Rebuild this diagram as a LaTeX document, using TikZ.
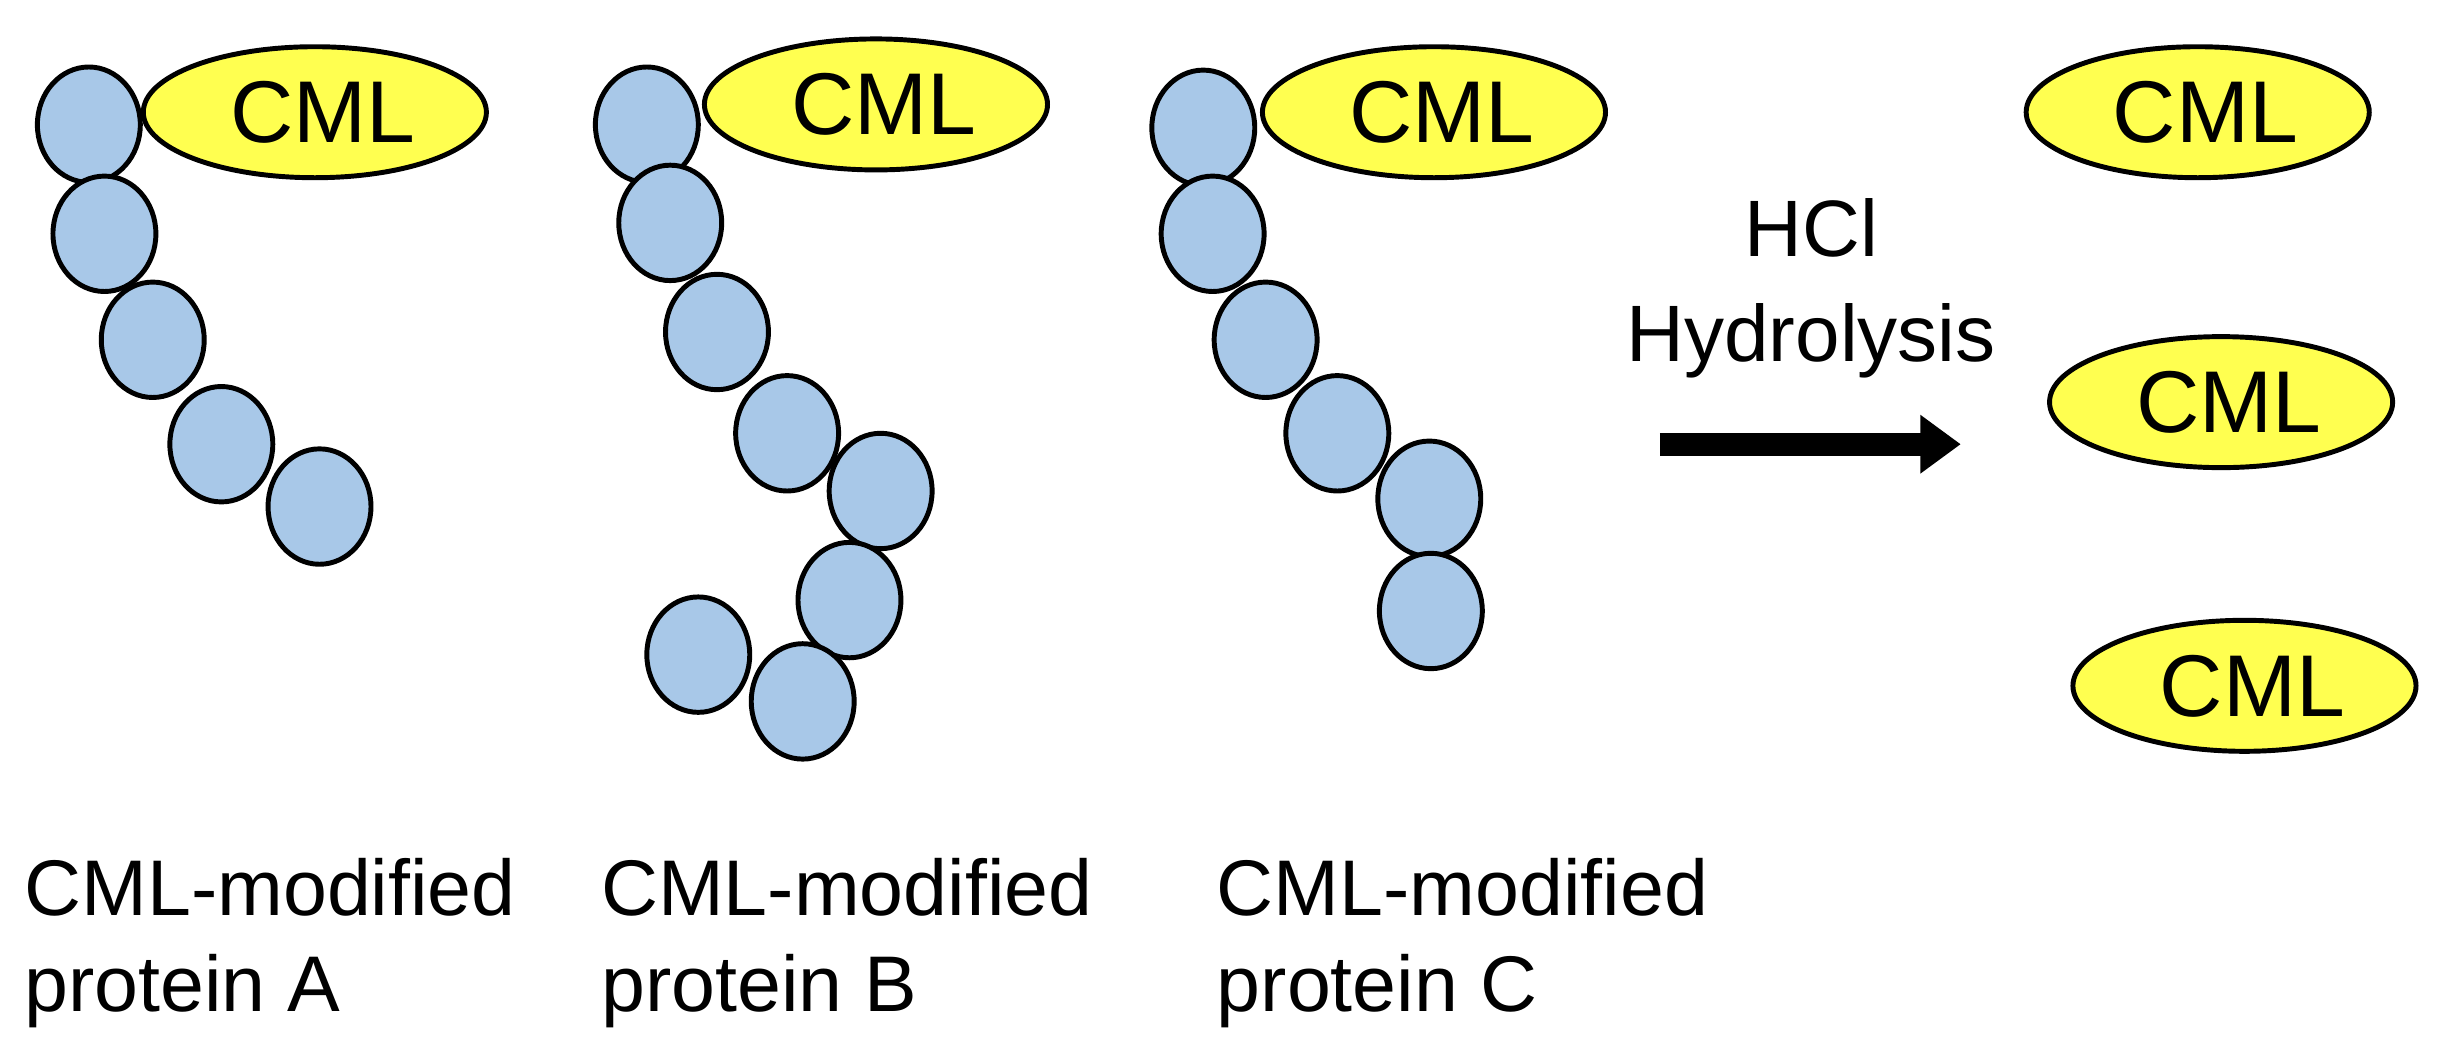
\documentclass[tikz,border=0pt]{standalone}
\usepackage{fontspec}
\setmainfont{Liberation Sans}
\usetikzlibrary{shapes.geometric,arrows.meta}
\begin{document}
\begin{tikzpicture}[x=0.01cm,y=-0.01cm,
  bead/.style={ellipse,draw=black,line width=0.9pt,fill=beadc,minimum width=0.66cm,minimum height=0.74cm,inner sep=0pt},
  cml/.style={ellipse,draw=black,line width=0.9pt,fill=cmly,minimum width=2.2cm,minimum height=0.84cm,inner sep=0pt,font=\fontsize{16}{18}\selectfont},
  lab/.style={anchor=west,align=left,font=\fontsize{14.4}{17.5}\selectfont,inner sep=0pt}]
\definecolor{beadc}{RGB}{168,200,232}
\definecolor{cmly}{RGB}{255,255,80}
\useasboundingbox (0,0) rectangle (1568,670);
% protein A
\foreach \n/\x/\y in {a1/57/80,a2/67/150,a3/98/218,a4/142/285,a5/205/325}
  \node[bead] (\n) at (\x,\y) {};
\node[cml] (ca) at (202,72) {\hspace{0.1cm}CML};
% protein B
\foreach \n/\x/\y in {b1/415/80,b2/430/143,b3/460/213,b4/505/278,b5/565/315,b6/545/385,b7/448/420,b8/515/450}
  \node[bead] (\n) at (\x,\y) {};
\node[cml] (cb) at (562,67) {\hspace{0.1cm}CML};
% protein C
\foreach \n/\x/\y in {c1/772/82,c2/778/150,c3/812/218,c4/858/278,c5/917/320,c6/918/392}
  \node[bead] (\n) at (\x,\y) {};
\node[cml] (cc) at (920,72) {\hspace{0.1cm}CML};
% free CML
\node[cml] (f1) at (1410,72) {\hspace{0.1cm}CML};
\node[cml] (f2) at (1425,258) {\hspace{0.1cm}CML};
\node[cml] (f3) at (1440,440) {\hspace{0.1cm}CML};
% arrow
\coordinate (s) at (1065,285);
\coordinate (e) at (1258,285);
\draw[line width=1.5mm,-{Triangle[length=2.6mm,width=3.6mm]}] (s) -- (e);
\node[align=center,font=\fontsize{14.6}{19}\selectfont] (hcl) at (1162,185) {HCl\\Hydrolysis};
% labels
\node[lab] (la) at (15,605) {CML-modified\\protein A};
\node[lab] (lb) at (385,605) {CML-modified\\protein B};
\node[lab] (lc) at (780,605) {CML-modified\\protein C};
\end{tikzpicture}
\end{document}
